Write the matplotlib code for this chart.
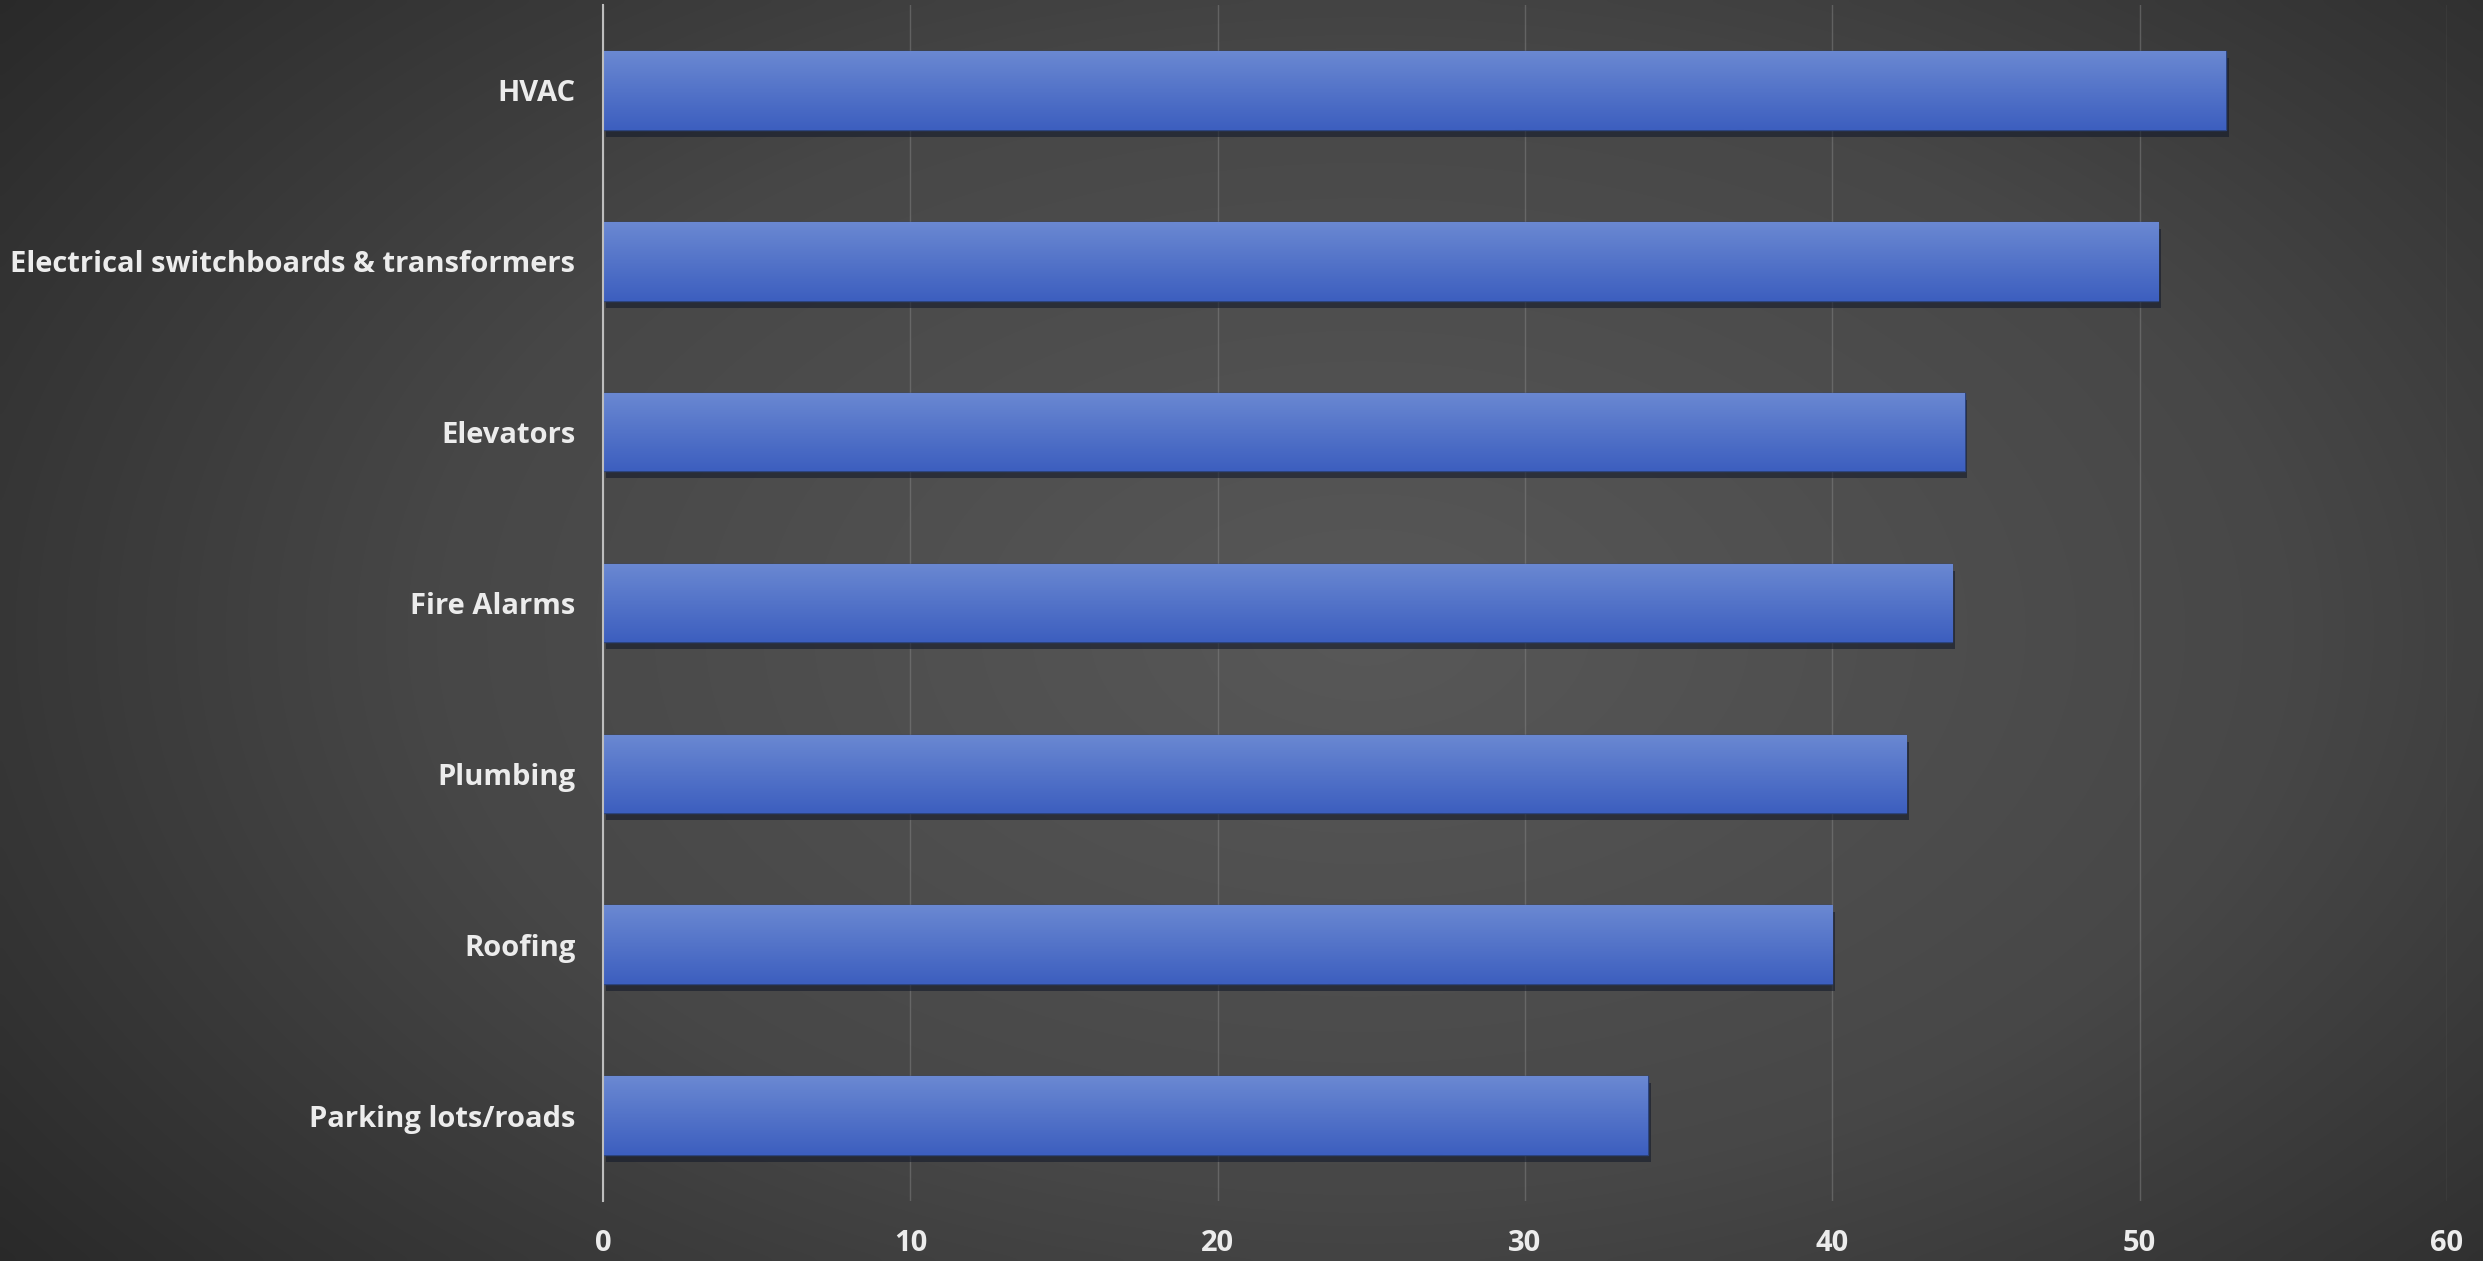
import numpy as np
import matplotlib
matplotlib.use("Agg")
import matplotlib.pyplot as plt
import matplotlib.patheffects as pe
from matplotlib.colors import LinearSegmentedColormap

categories = ["HVAC", "Electrical switchboards & transformers", "Elevators",
              "Fire Alarms", "Plumbing", "Roofing", "Parking lots/roads"]
values = [52.8, 50.6, 44.3, 43.9, 42.4, 40.0, 34.0]
xticks = [0, 10, 20, 30, 40, 50, 60]

plt.rcParams["font.family"] = ["Open Sans", "DejaVu Sans"]

fig = plt.figure(figsize=(24.83, 12.61), dpi=100)

# radial dark background
bg = fig.add_axes([0, 0, 1, 1], zorder=-10)
gx, gy = np.meshgrid(np.linspace(0, 1, 400), np.linspace(0, 1, 200))
r = np.sqrt(((gx - 0.55) / 0.75) ** 2 + ((gy - 0.5) / 0.9) ** 2)
bg_cmap = LinearSegmentedColormap.from_list("bg", ["#585858", "#474747", "#242424"])
bg.imshow(np.clip(r, 0, 1), cmap=bg_cmap, aspect="auto", extent=[0, 1, 0, 1],
          vmin=0, vmax=1, interpolation="bicubic")
bg.axis("off")

ax = fig.add_axes([0.2429, 0.0476, 0.7426, 0.9484])
ax.patch.set_alpha(0)

y = np.arange(len(categories))
bars = ax.barh(y, values, height=0.46, color="#4b6cc6", edgecolor="#2c447f",
               linewidth=1.0, zorder=3)
bar_cmap = LinearSegmentedColormap.from_list("bar", ["#3d5fbf", "#6a88d2"])
for b in bars:
    b.set_path_effects([pe.SimplePatchShadow(offset=(2, -5), shadow_rgbFace="#141a2a", alpha=0.6),
                        pe.Normal()])
    x0, y0, w, h = b.get_x(), b.get_y(), b.get_width(), b.get_height()
    im = ax.imshow(np.linspace(0, 1, 50).reshape(-1, 1), cmap=bar_cmap, aspect="auto",
                   extent=[x0, x0 + w, y0 + h, y0], origin="lower", zorder=4)
    im.set_clip_path(b)

ax.set_xlim(0, 60)
ax.set_ylim(len(categories) - 0.5, -0.5)
ax.set_xticks(xticks)
ax.set_xticklabels([str(t) for t in xticks], fontweight="bold")
ax.set_yticks(y)
ax.set_yticklabels(categories, fontweight="bold")
ax.grid(axis="x", color="#8a8a8a", linewidth=1.0, alpha=0.45, zorder=0)
ax.tick_params(axis="both", length=0, colors="#ececec", labelsize=21)
ax.tick_params(axis="x", pad=20)
ax.tick_params(axis="y", pad=20)

for side in ["top", "right", "bottom"]:
    ax.spines[side].set_visible(False)
ax.spines["left"].set_color("#bdbdbd")
ax.spines["left"].set_linewidth(1.5)
ax.spines["left"].set_zorder(5)

fig.savefig("out.png", dpi=100)
